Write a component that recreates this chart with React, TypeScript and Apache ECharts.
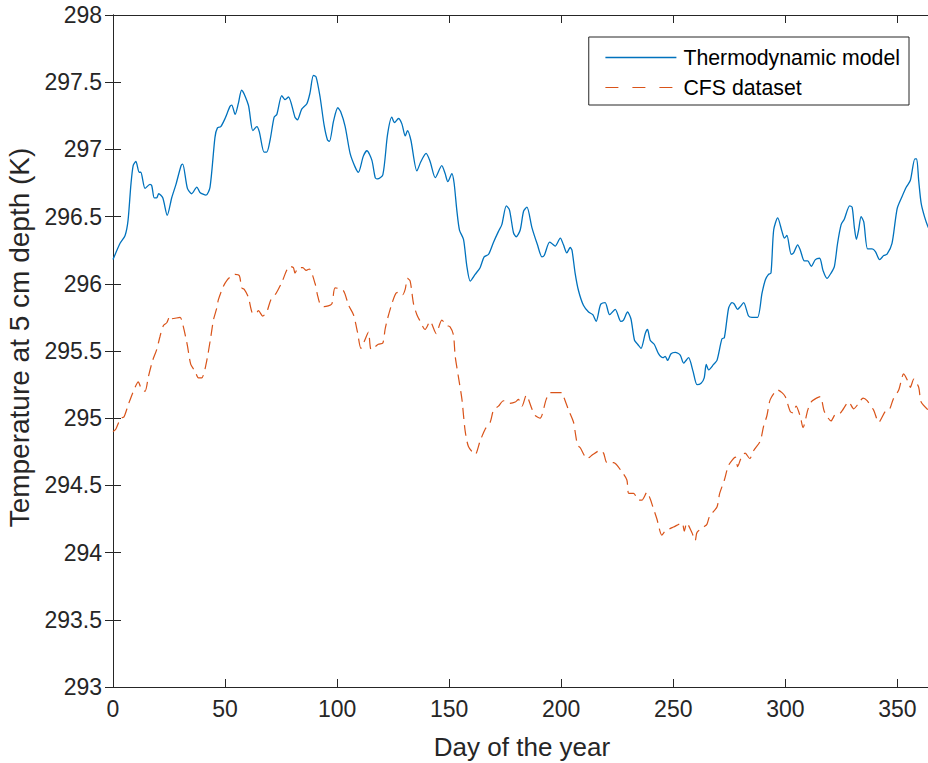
import React, { useEffect, useRef } from "react";
import * as echarts from "echarts";

const modelDays = [0, 3.1, 5.4, 6.7, 8.0, 9.0, 10.2, 11.7, 12.4, 14.3, 16.5, 17.3, 18.4, 19.5, 20.4, 22.2, 24.2, 26.2, 28.1, 30.4, 31.1, 33.2, 35.1, 37.4, 38.8, 41.5, 43.3, 45.5, 46.6, 48.1, 50.0, 52.2, 53.0, 54.5, 55.9, 57.4, 60.4, 62.4, 64.2, 65.3, 67.4, 68.6, 70.1, 71.9, 73.1, 75.3, 76.8, 78.3, 81.2, 82.3, 84.2, 86.5, 87.9, 89.4, 90.6, 92.4, 94.2, 95.7, 96.6, 98.4, 100.3, 101.6, 103.6, 105.8, 108.0, 109.5, 111.7, 113.3, 115.5, 117.0, 118.0, 120.4, 122.5, 124.4, 125.6, 127.4, 128.9, 130.4, 131.4, 132.9, 135.6, 137.4, 139.7, 141.5, 143.8, 146.7, 148.2, 149.4, 151.2, 152.2, 153.4, 154.6, 156.4, 157.9, 159.4, 161.6, 163.8, 165.6, 167.6, 169.8, 172.0, 173.5, 175.5, 176.9, 178.7, 179.9, 181.7, 183.2, 184.7, 186.9, 189.4, 191.4, 192.4, 194.8, 195.8, 197.3, 199.6, 201.0, 202.5, 204.0, 204.8, 206.2, 207.7, 209.9, 212.2, 214.1, 215.6, 217.1, 217.7, 219.6, 221.6, 224.1, 226.6, 227.8, 229.6, 231.1, 232.7, 234.1, 235.6, 237.5, 238.5, 239.7, 241.5, 243.4, 245.4, 246.4, 247.5, 249.0, 250.9, 253.1, 254.6, 256.8, 258.8, 260.6, 262.4, 263.8, 264.7, 265.8, 268.0, 269.5, 271.7, 272.8, 274.7, 276.2, 277.2, 278.7, 279.9, 281.4, 283.6, 285.1, 287.6, 289.6, 291.1, 292.5, 293.6, 294.8, 296.6, 298.5, 299.6, 300.7, 302.6, 303.7, 305.5, 306.7, 308.5, 310.0, 311.6, 313.4, 315.3, 316.8, 318.6, 320.4, 321.9, 323.3, 324.9, 326.3, 328.7, 329.8, 330.8, 331.7, 332.7, 333.8, 335.0, 336.7, 338.7, 340.2, 342.1, 343.9, 345.4, 347.6, 349.9, 352.1, 354.0, 355.8, 357.8, 358.6, 359.5, 360.6, 362.1, 363.8, 365];
const modelTemps = [296.18, 296.30, 296.36, 296.47, 296.74, 296.88, 296.91, 296.83, 296.83, 296.71, 296.74, 296.73, 296.64, 296.64, 296.67, 296.64, 296.51, 296.64, 296.74, 296.88, 296.89, 296.71, 296.67, 296.72, 296.68, 296.66, 296.72, 297.09, 297.16, 297.17, 297.23, 297.32, 297.33, 297.26, 297.34, 297.44, 297.33, 297.14, 297.17, 297.13, 296.98, 296.98, 297.07, 297.24, 297.26, 297.40, 297.37, 297.39, 297.24, 297.22, 297.30, 297.34, 297.42, 297.55, 297.54, 297.39, 297.18, 297.07, 297.06, 297.21, 297.31, 297.28, 297.17, 296.97, 296.87, 296.83, 296.95, 296.99, 296.92, 296.79, 296.78, 296.81, 297.11, 297.24, 297.20, 297.23, 297.19, 297.10, 297.14, 297.07, 296.84, 296.91, 296.97, 296.91, 296.79, 296.88, 296.82, 296.76, 296.82, 296.75, 296.55, 296.40, 296.33, 296.13, 296.02, 296.07, 296.12, 296.20, 296.22, 296.31, 296.39, 296.44, 296.58, 296.55, 296.38, 296.35, 296.40, 296.54, 296.57, 296.42, 296.29, 296.20, 296.21, 296.31, 296.30, 296.28, 296.34, 296.29, 296.23, 296.27, 296.25, 296.08, 295.95, 295.84, 295.79, 295.77, 295.72, 295.82, 295.85, 295.86, 295.77, 295.81, 295.72, 295.73, 295.79, 295.74, 295.58, 295.55, 295.52, 295.63, 295.66, 295.58, 295.55, 295.48, 295.45, 295.46, 295.43, 295.48, 295.49, 295.47, 295.41, 295.45, 295.35, 295.25, 295.26, 295.30, 295.40, 295.36, 295.40, 295.43, 295.59, 295.60, 295.82, 295.86, 295.85, 295.81, 295.83, 295.86, 295.76, 295.75, 295.75, 295.93, 296.03, 296.07, 296.08, 296.40, 296.49, 296.39, 296.34, 296.36, 296.22, 296.23, 296.29, 296.25, 296.17, 296.17, 296.13, 296.18, 296.19, 296.10, 296.04, 296.08, 296.13, 296.30, 296.44, 296.48, 296.58, 296.57, 296.42, 296.33, 296.40, 296.50, 296.46, 296.26, 296.26, 296.24, 296.18, 296.21, 296.22, 296.30, 296.56, 296.65, 296.72, 296.77, 296.93, 296.93, 296.77, 296.60, 296.50, 296.42, 296.40];

const cfsDays = [0, 1.3, 3.4, 4.9, 6.8, 9.1, 11.3, 12.4, 14.3, 15.8, 17.7, 19.5, 21.0, 22.5, 24.0, 25.4, 26.2, 29.9, 31.4, 33.2, 34.7, 36.6, 38.1, 39.6, 41.5, 43.6, 44.8, 46.3, 47.0, 49.2, 51.0, 53.0, 54.5, 56.4, 57.4, 58.5, 60.4, 62.4, 63.8, 64.9, 66.8, 68.6, 70.4, 72.8, 75.3, 77.5, 78.7, 80.5, 81.2, 82.7, 84.7, 86.2, 87.6, 90.2, 91.2, 92.4, 94.2, 97.6, 99.1, 102.8, 105.1, 107.3, 109.1, 110.6, 112.1, 114.0, 115.2, 118.4, 120.4, 121.4, 122.5, 124.4, 126.3, 128.1, 129.3, 130.4, 131.4, 132.6, 134.1, 135.6, 136.8, 139.3, 141.5, 144.2, 146.7, 148.9, 150.4, 151.9, 152.7, 154.2, 155.7, 157.1, 158.6, 161.6, 163.8, 166.1, 168.3, 169.8, 172.0, 174.2, 176.9, 179.5, 180.9, 182.5, 184.4, 186.9, 188.4, 190.6, 193.3, 195.1, 198.1, 200.3, 201.3, 203.3, 205.5, 206.3, 207.3, 208.5, 211.5, 212.7, 214.1, 217.4, 218.9, 220.4, 223.4, 227.1, 229.3, 230.1, 232.3, 234.5, 236.0, 238.3, 239.7, 240.9, 242.7, 244.9, 246.4, 248.7, 250.1, 253.9, 254.9, 256.0, 258.3, 259.8, 260.6, 263.5, 265.0, 266.2, 269.5, 270.7, 272.8, 274.7, 277.7, 278.7, 280.2, 282.1, 284.1, 285.9, 288.8, 290.3, 291.8, 293.3, 296.6, 298.5, 300.0, 302.2, 303.4, 304.8, 306.7, 307.9, 310.0, 311.5, 313.0, 315.6, 317.4, 320.4, 322.3, 324.6, 328.3, 330.5, 332.7, 334.7, 336.5, 339.4, 341.7, 344.6, 346.6, 348.1, 350.6, 352.8, 355.1, 355.8, 357.3, 359.5, 360.6, 363.8, 365];
const cfsTemps = [294.90, 294.92, 295.00, 295.01, 295.10, 295.20, 295.27, 295.23, 295.20, 295.31, 295.43, 295.51, 295.61, 295.69, 295.71, 295.76, 295.74, 295.75, 295.68, 295.54, 295.40, 295.35, 295.30, 295.30, 295.40, 295.60, 295.73, 295.82, 295.88, 295.98, 296.03, 296.06, 296.07, 296.06, 295.97, 295.96, 295.90, 295.78, 295.78, 295.80, 295.76, 295.79, 295.88, 295.93, 296.01, 296.10, 296.13, 296.12, 296.08, 296.12, 296.12, 296.10, 296.11, 296.00, 295.92, 295.85, 295.83, 295.85, 295.97, 295.95, 295.84, 295.77, 295.64, 295.52, 295.57, 295.64, 295.51, 295.55, 295.56, 295.66, 295.74, 295.85, 295.93, 295.94, 295.92, 295.96, 296.04, 296.02, 295.85, 295.77, 295.73, 295.66, 295.72, 295.63, 295.73, 295.69, 295.68, 295.62, 295.46, 295.30, 295.14, 294.91, 294.79, 294.73, 294.83, 294.92, 294.97, 295.06, 295.09, 295.13, 295.11, 295.12, 295.14, 295.09, 295.17, 295.07, 295.02, 295.00, 295.14, 295.19, 295.19, 295.19, 295.15, 295.06, 294.97, 294.89, 294.80, 294.78, 294.70, 294.71, 294.73, 294.76, 294.74, 294.67, 294.67, 294.60, 294.54, 294.44, 294.44, 294.39, 294.39, 294.45, 294.40, 294.34, 294.25, 294.13, 294.16, 294.18, 294.19, 294.22, 294.16, 294.22, 294.15, 294.09, 294.15, 294.19, 294.21, 294.27, 294.34, 294.44, 294.54, 294.65, 294.71, 294.64, 294.70, 294.74, 294.70, 294.76, 294.83, 294.94, 295.02, 295.14, 295.21, 295.19, 295.16, 295.05, 295.04, 295.09, 295.01, 294.93, 295.06, 295.12, 295.14, 295.16, 295.05, 294.98, 295.03, 295.04, 295.12, 295.07, 295.11, 295.15, 295.13, 295.06, 294.97, 295.05, 295.07, 295.14, 295.21, 295.33, 295.26, 295.23, 295.29, 295.23, 295.12, 295.06, 295.05];

const seriesNames = ["Thermodynamic model", "CFS dataset"];
const xTitle = "Day of the year";
const yTitle = "Temperature at 5 cm depth (K)";

const FONT = "'Liberation Sans', Arial, Helvetica, sans-serif";
const AX = "#262626";
const BLUE = "#0072BD";
const ORANGE = "#D95319";

export default function App() {
  const ref = useRef<HTMLDivElement>(null);
  useEffect(() => {
    if (!ref.current) return;
    const chart = echarts.init(ref.current, undefined, { renderer: "svg" });
    const modelData = modelDays.map((d, i) => [d, modelTemps[i]]);
    const cfsData = cfsDays.map((d, i) => [d, cfsTemps[i]]);
    const axisLineStyle = { color: AX, width: 1 };
    chart.setOption({
      animation: false,
      backgroundColor: "#ffffff",
      textStyle: { fontFamily: FONT },
      grid: { left: 113, top: 15, right: -3, bottom: 76, containLabel: false, outerBoundsMode: "none" },
      legend: {
        orient: "vertical",
        right: 19,
        top: 37,
        padding: [10, 9, 7, 16],
        itemGap: 9,
        itemWidth: 71,
        itemHeight: 14,
        borderColor: AX,
        borderWidth: 1,
        backgroundColor: "#ffffff",
        itemStyle: { opacity: 0 },
        textStyle: { fontFamily: FONT, fontSize: 21.3, color: "#000000", padding: [0, 0, 0, 2] },
        data: [
          { name: seriesNames[0], lineStyle: { color: BLUE, width: 1.3, type: "solid" } },
          { name: seriesNames[1], lineStyle: { color: ORANGE, width: 1.2, type: [13, 14] } },
        ],
      },
      xAxis: [
        {
          type: "value",
          min: 0,
          max: 365,
          interval: 50,
          name: xTitle,
          nameLocation: "middle",
          nameGap: 47,
          nameTextStyle: { fontFamily: FONT, fontSize: 26, color: AX },
          axisLine: { show: true, lineStyle: axisLineStyle },
          axisTick: { show: true, inside: true, length: 8, lineStyle: axisLineStyle },
          axisLabel: { fontFamily: FONT, fontSize: 23, color: AX, margin: 10, showMaxLabel: false },
          splitLine: { show: false },
        },
        {
          type: "value",
          position: "top",
          min: 0,
          max: 365,
          interval: 50,
          axisLine: { show: true, lineStyle: axisLineStyle },
          axisTick: { show: true, inside: true, length: 8, lineStyle: axisLineStyle },
          axisLabel: { show: false },
          splitLine: { show: false },
        },
      ],
      yAxis: [
        {
          type: "value",
          min: 293,
          max: 298,
          interval: 0.5,
          name: yTitle,
          nameLocation: "middle",
          nameGap: 78,
          nameTextStyle: { fontFamily: FONT, fontSize: 28, color: AX, padding: [0, 0, 0, 27] },
          axisLine: { show: true, lineStyle: axisLineStyle },
          axisTick: { show: true, inside: true, length: 8, lineStyle: axisLineStyle },
          axisLabel: { fontFamily: FONT, fontSize: 23, color: AX, margin: 11 },
          splitLine: { show: false },
        },
        {
          type: "value",
          position: "right",
          min: 293,
          max: 298,
          interval: 0.5,
          axisLine: { show: true, lineStyle: axisLineStyle },
          axisTick: { show: true, inside: true, length: 8, lineStyle: axisLineStyle },
          axisLabel: { show: false },
          splitLine: { show: false },
        },
      ],
      series: [
        {
          name: seriesNames[0],
          type: "line",
          xAxisIndex: 0,
          yAxisIndex: 0,
          data: modelData,
          showSymbol: false,
          symbol: "none",
          smooth: 0.25,
          lineStyle: { color: BLUE, width: 1.3, type: "solid" },
          itemStyle: { color: BLUE },
        },
        {
          name: seriesNames[1],
          type: "line",
          xAxisIndex: 0,
          yAxisIndex: 0,
          data: cfsData,
          showSymbol: false,
          symbol: "none",
          smooth: 0.25,
          lineStyle: { color: ORANGE, width: 1.2, type: [11, 6] },
          itemStyle: { color: ORANGE },
        },
      ],
    });
    return () => chart.dispose();
  }, []);
  return (
    <div
      ref={ref}
      style={{ position: "fixed", left: 0, top: 0, width: 928, height: 763, background: "#fff" }}
    />
  );
}
